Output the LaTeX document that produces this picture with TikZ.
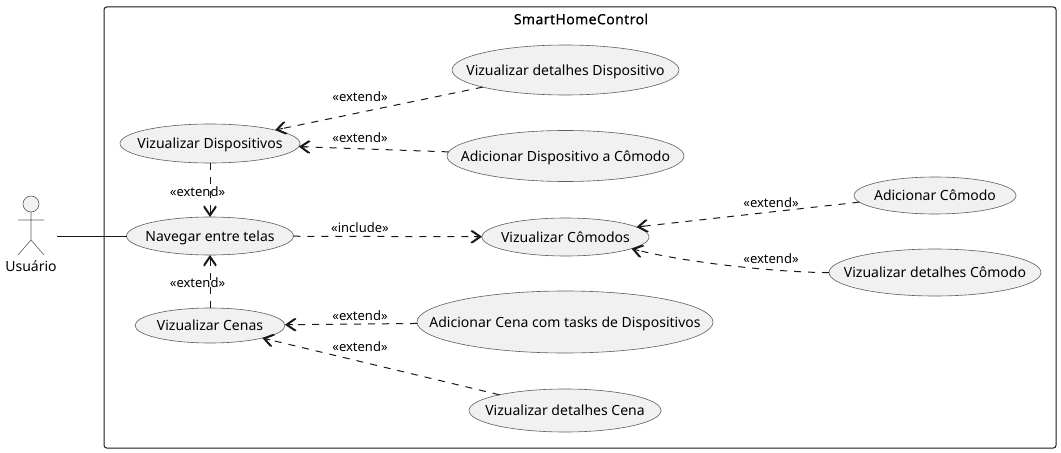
\documentclass[tikz,border=0pt]{standalone}
\usepackage{fontspec}
\setmainfont{Noto Sans}
\newfontfamily\titlefont[FakeBold=0.5,LetterSpace=3]{Noto Sans}
\usetikzlibrary{shapes.geometric,arrows.meta,decorations.markings}
\definecolor{usefill}{HTML}{F1F1F1}
\definecolor{uline}{HTML}{181818}
\tikzset{
  x=0.75pt,y=-0.75pt,
  usecase/.style={ellipse,draw=uline!70,line width=0.45pt,fill=usefill,inner sep=0pt,outer sep=0pt,text=black,font=\fontsize{10.5}{12}\selectfont},
  rel/.style={draw=uline,line width=0.75pt,dash pattern=on 5.25pt off 5.25pt,
    -{Straight Barb[length=6.5pt,width=9pt,line width=0.95pt]},
    postaction={decorate,decoration={markings,mark=at position 1 with {\draw[solid,line width=0.75pt,uline] (-6pt,0pt) -- (-1pt,0pt);}}}},
  lbl/.style={inner sep=0pt,font=\fontsize{9.75}{11}\selectfont,text=black},
  actorline/.style={draw=uline!70,line width=0.45pt},
}
\newcommand{\uc}[6]{\node[usecase,minimum width=#4*1.5pt,minimum height=#5*1.5pt] (#1) at (#2,#3) {\smash{\raisebox{-0.36em}{\makebox[0pt]{#6}}}};}
\begin{document}
\begin{tikzpicture}
\useasboundingbox (0,0) rectangle (1061,453);
\node[draw=uline,line width=0.75pt,rounded corners=2pt,minimum width=714pt,minimum height=330.75pt,inner sep=0pt,outer sep=0pt] (sys) at (580,227.5) {};
\node[inner sep=0pt,font=\fontsize{10.5}{12}\selectfont\titlefont] (title) at (581,19) {SmartHomeControl};
\uc{vdd}{565.5}{70}{113.5}{25}{Vizualizar detalhes Dispositivo}
\uc{adc}{565.5}{156}{118.5}{25.5}{Adicionar Dispositivo a Cômodo}
\uc{vd}{210}{143.5}{90}{19.5}{Vizualizar Dispositivos}
\uc{nav}{210}{236}{83.5}{19}{Navegar entre telas}
\uc{vc}{210}{325.5}{75}{17.5}{Vizualizar Cenas}
\uc{acn}{565}{322}{148}{31}{Adicionar Cena com tasks de Dispositivos}
\uc{vdc}{565}{410.5}{96}{21.5}{Vizualizar detalhes Cena}
\uc{vcm}{565.5}{237}{83.5}{19}{Vizualizar Cômodos}
\uc{acm}{935}{195.5}{81}{18.5}{Adicionar Cômodo}
\uc{vdm}{935}{272.5}{106}{23.5}{Vizualizar detalhes Cômodo}
% actor
\node[circle,draw=uline!70,line width=0.45pt,fill=usefill,inner sep=0pt,outer sep=0pt,minimum size=12pt] (head) at (31,204) {};
\coordinate (hip) at (31,240);
\coordinate (armL) at (18,220);
\coordinate (armR) at (44,220);
\coordinate (legL) at (18,255);
\coordinate (legR) at (44,255);
\draw[actorline] (head) -- (hip) (armL) -- (armR) (legL) -- (hip) -- (legR);
\node[inner sep=0pt,font=\fontsize{10.5}{12}\selectfont] (actor) at (31,266) {Usuário};
\coordinate (hand) at (57,236);
\draw[draw=uline,line width=0.75pt] (hand) -- (nav);
% relations
\draw[rel] (vdd) -- (vd);
\draw[rel] (adc) -- (vd);
\draw[rel] (vd) -- (nav);
\draw[rel] (vc) -- (nav);
\draw[rel] (nav) -- (vcm);
\draw[rel] (acn) -- (vc);
\draw[rel] (vdc) -- (vc);
\draw[rel] (acm.185) -- (vcm.8);
\draw[rel] (vdm.west) .. controls (790,273) and (690,264) .. (vcm.-10);
% labels
\node[lbl] (l1) at (360,97) {«extend»};
\node[lbl] (l2) at (360,138) {«extend»};
\node[lbl] (l3) at (197.5,192) {«extend»};
\node[lbl] (l4) at (197.5,283) {«extend»};
\node[lbl] (l5) at (360,228) {«include»};
\node[lbl] (l6) at (771,203) {«extend»};
\node[lbl] (l7) at (771,259) {«extend»};
\node[lbl] (l8) at (360,316) {«extend»};
\node[lbl] (l9) at (360,347) {«extend»};
\end{tikzpicture}
\end{document}
